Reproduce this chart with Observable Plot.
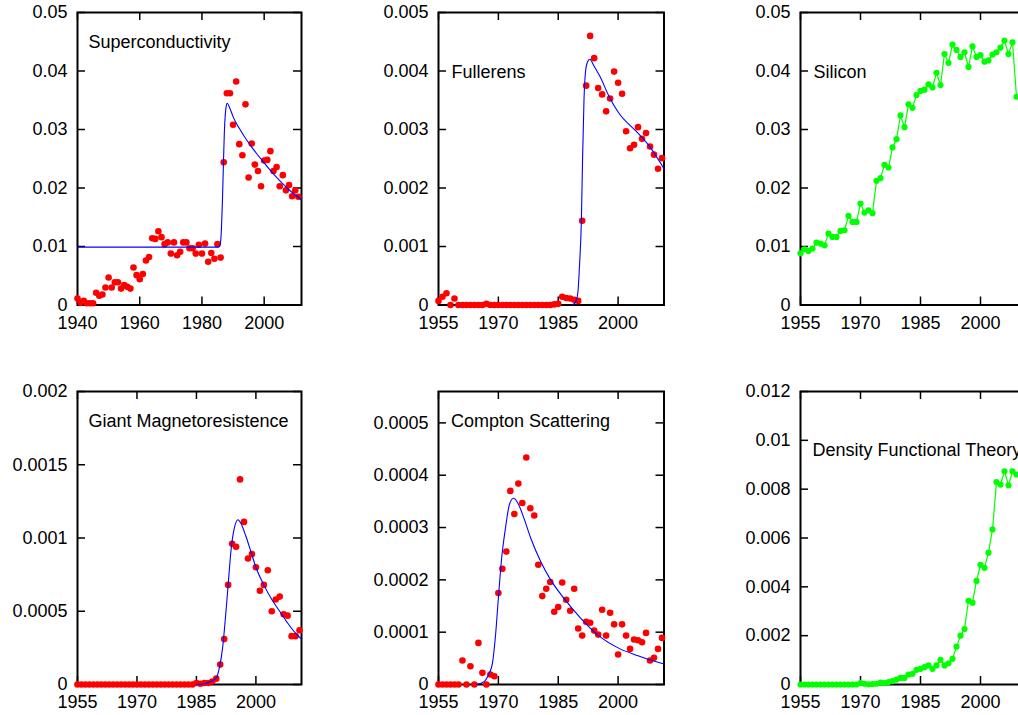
<!DOCTYPE html>
<html><head><meta charset="utf-8">
<script src="https://cdn.jsdelivr.net/npm/d3@7"></script>
<script src="https://cdn.jsdelivr.net/npm/@observablehq/plot@0.6"></script>
<style>
html,body{margin:0;padding:0;background:#fff;overflow:hidden}
#wrap{position:relative;width:1018px;height:715px;overflow:hidden;background:#fff}
</style></head><body><div id="wrap"></div>
<script>
// ---------- tick labels ----------
const xTicksSuper = [1940, 1960, 1980, 2000];
const xTicksStd = [1955, 1970, 1985, 2000];
const yTicksSuper = [0, 0.01, 0.02, 0.03, 0.04, 0.05];
const yTicksFull = [0, 0.001, 0.002, 0.003, 0.004, 0.005];
const yTicksSil = [0, 0.01, 0.02, 0.03, 0.04, 0.05];
const yTicksGmr = [0, 0.0005, 0.001, 0.0015, 0.002];
const yTicksComp = [0, 0.0001, 0.0002, 0.0003, 0.0004, 0.0005];
const yTicksDft = [0, 0.002, 0.004, 0.006, 0.008, 0.01, 0.012];

// ---------- Superconductivity ----------
const superYears = [1940,1941,1942,1943,1944,1945,1946,1947,1948,1949,1950,1951,1952,1953,1954,1955,1956,1957,1958,1959,1960,1961,1962,1963,1964,1965,1966,1967,1968,1969,1970,1971,1972,1973,1974,1975,1976,1977,1978,1979,1980,1981,1982,1983,1984,1985,1986,1987,1988,1989,1990,1991,1992,1993,1994,1995,1996,1997,1998,1999,2000,2001,2002,2003,2004,2005,2006,2007,2008,2009,2010,2011];
const superValues = [0.0011,0.0004,0.0007,0.0003,0.0003,0.0003,0.0021,0.0016,0.0018,0.0030,0.0047,0.0030,0.0039,0.0039,0.0028,0.0034,0.0031,0.0028,0.0064,0.0051,0.0044,0.0053,0.0076,0.0082,0.0114,0.0113,0.0126,0.0116,0.0104,0.0107,0.0088,0.0107,0.0085,0.0091,0.0107,0.0107,0.0097,0.0097,0.0088,0.0103,0.0088,0.0105,0.0074,0.0089,0.0079,0.0104,0.0081,0.0244,0.0362,0.0362,0.0308,0.0382,0.0275,0.0256,0.0343,0.0218,0.0276,0.0240,0.0229,0.0203,0.0247,0.0248,0.0263,0.0229,0.0236,0.0203,0.0222,0.0196,0.0205,0.0186,0.0196,0.0185];
const superFitYears = [1940,1985.3,1985.7,1986.0,1986.3,1986.6,1986.9,1987.2,1987.5,1987.8,1988.1,1989,1990,1992,1994,1996,1998,2000,2002,2004,2006,2008,2010,2012];
const superFitValues = [0.0099,0.0099,0.0101,0.0108,0.0135,0.018,0.024,0.0295,0.0325,0.0340,0.0345,0.0336,0.0322,0.0302,0.0285,0.0270,0.0256,0.0243,0.0230,0.0218,0.0207,0.0197,0.0188,0.0180];

// ---------- Fullerens ----------
const fullYears = [1955,1956,1957,1958,1959,1960,1961,1962,1963,1964,1965,1966,1967,1968,1969,1970,1971,1972,1973,1974,1975,1976,1977,1978,1979,1980,1981,1982,1983,1984,1985,1986,1987,1988,1989,1990,1991,1992,1993,1994,1995,1996,1997,1998,1999,2000,2001,2002,2003,2004,2005,2006,2007,2008,2009,2010,2011];
const fullValues = [0.00007,0.00014,0.0002,0,0.00011,0,0,0,0,0,0,0,0.00002,0,0,0,0,0,0,0,0,0,0,0,0,0,0,0,0,0.00001,0.00002,0.00014,0.00012,0.00011,0.00009,0.00007,0.00144,0.00375,0.0046,0.00422,0.00371,0.0036,0.00331,0.00353,0.00399,0.0038,0.00361,0.00297,0.00268,0.00274,0.00304,0.00284,0.00294,0.00271,0.00257,0.00233,0.00251];
const fullFitYears = [1988.4,1989.3,1989.9,1990.35,1990.8,1991.1,1991.45,1991.85,1992.3,1992.9,1994,1995.5,1997.7,2000,2004.8,2008,2011.5];
const fullFitValues = [0,0.00004,0.0002,0.0007,0.00145,0.0025,0.0035,0.0040,0.00415,0.0042,0.00408,0.0039,0.00357,0.0033,0.00295,0.0027,0.00233];

// ---------- Silicon ----------
const silYears = [1955,1956,1957,1958,1959,1960,1961,1962,1963,1964,1965,1966,1967,1968,1969,1970,1971,1972,1973,1974,1975,1976,1977,1978,1979,1980,1981,1982,1983,1984,1985,1986,1987,1988,1989,1990,1991,1992,1993,1994,1995,1996,1997,1998,1999,2000,2001,2002,2003,2004,2005,2006,2007,2008,2009];
const silValues = [0.00884,0.00953,0.00924,0.00964,0.01067,0.0105,0.0102,0.0122,0.01164,0.01164,0.01266,0.01278,0.01523,0.0142,0.0142,0.01734,0.0158,0.0162,0.01569,0.02122,0.02168,0.02396,0.0235,0.02693,0.02835,0.0324,0.0304,0.0343,0.0337,0.0359,0.0366,0.0368,0.0377,0.0372,0.0397,0.0376,0.0429,0.0414,0.0445,0.0436,0.0424,0.0432,0.0407,0.0442,0.0424,0.0427,0.0416,0.0418,0.0428,0.0432,0.044,0.0452,0.0429,0.0449,0.0356];

// ---------- Giant Magnetoresistence ----------
const gmrYears = fullYears.slice();
const gmrValues = [0,0,0,0,0,0,0,0,0,0,0,0,0,0,0,0,0,0,0,0,0,0,0,0,0,0,0,0,0,0,0.00001,0.000005,0.00001,0.00001,0.00002,0.00004,0.000136,0.00031,0.00068,0.00096,0.00094,0.0014,0.00111,0.00086,0.00089,0.0008,0.00064,0.00068,0.00078,0.0005,0.00058,0.0006,0.00048,0.00047,0.00033,0.00033,0.00037];
const gmrFitYears = [1985,1987,1988.6,1990,1990.75,1991.6,1992.3,1993,1993.7,1994.5,1995.5,1996.2,1997.5,1998.7,2000,2002,2004,2006,2008,2010,2011.5];
const gmrFitValues = [0,0.000005,0.00002,0.000045,0.00011,0.00025,0.00045,0.00068,0.00091,0.00106,0.001125,0.0011,0.00101,0.00091,0.0008,0.00068,0.00058,0.0005,0.00042,0.00035,0.00031];

// ---------- Compton Scattering ----------
const compYears = fullYears.slice();
const compValues = [0,0,0,0,0,0,0.0000458,0,0.000035,0,0.0000795,0.0000223,0,0.000019,0.0000159,0.000175,0.000221,0.000254,0.00037,0.000326,0.000384,0.000347,0.000434,0.000337,0.000323,0.000229,0.000169,0.000183,0.000196,0.000139,0.000148,0.000195,0.000162,0.000141,0.000183,0.000107,0.0000935,0.00012,0.000118,0.000103,0.0000954,0.000143,0.0000935,0.000137,0.000115,0.0000573,0.000115,0.0000935,0.000068,0.0000859,0.0000846,0.0000808,0.0000986,0.0000458,0.0000509,0.000068,0.0000891];
const compFitYears = [1964.5,1966.5,1967.6,1968.5,1969.3,1970,1970.8,1971.8,1972.8,1973.8,1974.8,1976.4,1978.1,1980.6,1983.1,1986.4,1990.6,1994.8,2000,2005,2011.5];
const compFitValues = [0,0.000006,0.00002,0.00004,0.000095,0.000165,0.00024,0.0003,0.000345,0.000356,0.000348,0.000318,0.00028,0.000235,0.0002,0.000165,0.000127,0.0000954,0.00007,0.000055,0.000039];

// ---------- Density Functional Theory ----------
const dftYears = silYears.slice();
const dftValues = [0,0,0,0,0,0,0,0,0,0,0,0,0,0,0,0.00006,0.00003,0.00001,0.00002,0.00003,0.00008,0.00006,0.0001,0.00014,0.0002,0.00027,0.00027,0.00041,0.00044,0.0006,0.00064,0.00071,0.00078,0.00064,0.00078,0.00101,0.00078,0.00087,0.00105,0.00155,0.002,0.00227,0.00343,0.00335,0.00424,0.0049,0.00478,0.0054,0.00635,0.00829,0.00819,0.00873,0.00816,0.00873,0.0086];

// ---------- drawing ----------
const wrap = document.getElementById("wrap");
const M = {l: 90, r: 20, t: 20, b: 50};
const RED = "#ff0000", GREEN = "#00ff00", BLUE = "#0000ff";

function panel(c) {
  const {fx, fy, w, h} = c;
  const marks = [
    Plot.frame({stroke: "#000", strokeWidth: 2}),
    Plot.tickX(c.xTicks, {x: d => d, insetTop: h - 8, stroke: "#000", strokeWidth: 1.5}),
    Plot.tickX(c.xTicks, {x: d => d, insetBottom: h - 8, stroke: "#000", strokeWidth: 1.5}),
    Plot.tickY(c.yTicks, {y: d => d, insetRight: w - 8, stroke: "#000", strokeWidth: 1.5}),
    Plot.tickY(c.yTicks, {y: d => d, insetLeft: w - 8, stroke: "#000", strokeWidth: 1.5}),
    Plot.axisX({ticks: c.xTicks, tickSize: 0, tickPadding: 11, tickFormat: d => String(d), fontSize: 18, fill: "#000", label: null}),
    Plot.axisY({ticks: c.yTicks, tickSize: 0, tickPadding: 10, tickFormat: d => String(d), fontSize: 18, fill: "#000", label: null}),
    Plot.text([c.label], {text: d => d, frameAnchor: "top-left", textAnchor: "start", lineAnchor: "middle", dx: c.labelDx, dy: c.labelDy, fontSize: 18, fill: "#000"})
  ];
  if (c.connect) marks.push(Plot.line(c.values, {x: c.years, y: c.values, stroke: c.color, strokeWidth: 1.2}));
  marks.push(Plot.dot(c.values, {x: c.years, y: c.values, r: c.r, fill: c.color, stroke: "none"}));
  if (c.fitYears) marks.push(Plot.line(c.fitValues, {x: c.fitYears, y: c.fitValues, stroke: BLUE, strokeWidth: 1.1, curve: "monotone-x"}));
  const svg = Plot.plot({
    width: M.l + w + M.r, height: M.t + h + M.b,
    marginLeft: M.l, marginRight: M.r, marginTop: M.t, marginBottom: M.b,
    x: {domain: c.xDomain}, y: {domain: c.yDomain},
    style: {fontFamily: "'Liberation Sans', Arial, sans-serif", fontSize: "18px", color: "#000", background: "transparent", overflow: "visible"},
    marks
  });
  svg.style.position = "absolute";
  svg.style.left = (fx - M.l) + "px";
  svg.style.top = (fy - M.t) + "px";
  svg.style.maxWidth = "none";
  wrap.appendChild(svg);
}

const xStd = [1955, 2011.5];
panel({fx: 77, fy: 12, w: 224, h: 292.5, xDomain: [1940, 2012], yDomain: [0, 0.05], xTicks: xTicksSuper, yTicks: yTicksSuper,
  label: "Superconductivity", labelDx: 11, labelDy: 30, years: superYears, values: superValues, fitYears: superFitYears, fitValues: superFitValues, color: RED, r: 3.3});
panel({fx: 437.5, fy: 12, w: 225.5, h: 292.5, xDomain: xStd, yDomain: [0, 0.005], xTicks: xTicksStd, yTicks: yTicksFull,
  label: "Fullerens", labelDx: 13, labelDy: 59.5, years: fullYears, values: fullValues, fitYears: fullFitYears, fitValues: fullFitValues, color: RED, r: 3.3});
panel({fx: 799.5, fy: 12, w: 226, h: 292.5, xDomain: xStd, yDomain: [0, 0.05], xTicks: xTicksStd, yTicks: yTicksSil,
  label: "Silicon", labelDx: 13, labelDy: 59.5, years: silYears, values: silValues, color: GREEN, connect: true, r: 3.1});
panel({fx: 77, fy: 391, w: 224, h: 293, xDomain: xStd, yDomain: [0, 0.002], xTicks: xTicksStd, yTicks: yTicksGmr,
  label: "Giant Magnetoresistence", labelDx: 11, labelDy: 29.5, years: gmrYears, values: gmrValues, fitYears: gmrFitYears, fitValues: gmrFitValues, color: RED, r: 3.3});
panel({fx: 437.5, fy: 391, w: 225.5, h: 293, xDomain: xStd, yDomain: [0, 0.00056], xTicks: xTicksStd, yTicks: yTicksComp,
  label: "Compton Scattering", labelDx: 12.5, labelDy: 29.5, years: compYears, values: compValues, fitYears: compFitYears, fitValues: compFitValues, color: RED, r: 3.3});
panel({fx: 799.5, fy: 391, w: 226, h: 293, xDomain: xStd, yDomain: [0, 0.012], xTicks: xTicksStd, yTicks: yTicksDft,
  label: "Density Functional Theory", labelDx: 12, labelDy: 59, years: dftYears, values: dftValues, color: GREEN, connect: true, r: 3.1});
</script></body></html>
